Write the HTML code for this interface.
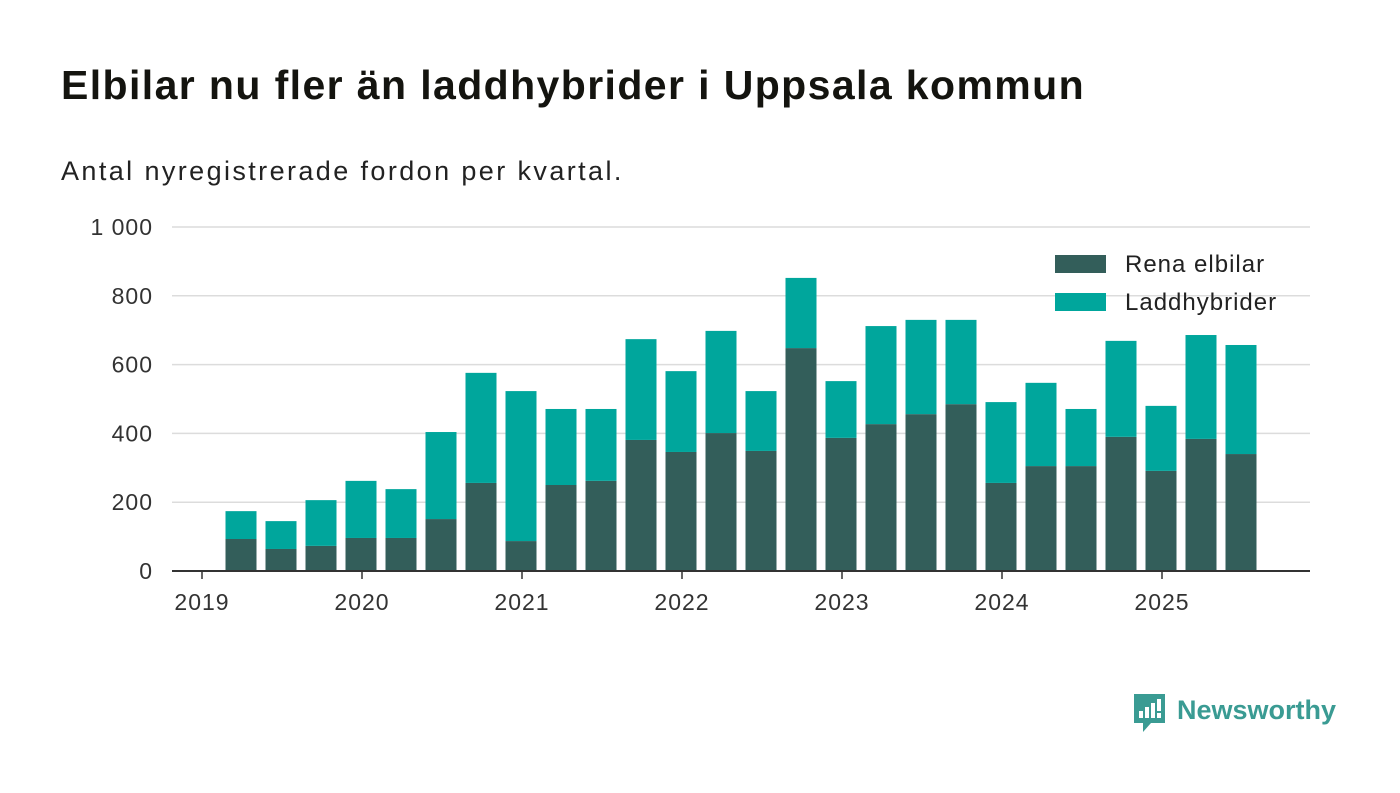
<!DOCTYPE html>
<html><head><meta charset="utf-8"><style>
body{margin:0;width:1400px;height:793px;background:#fff;font-family:"Liberation Sans",sans-serif;overflow:hidden;position:relative}
h1{position:absolute;left:61px;top:62px;margin:0;font-size:41px;letter-spacing:1.4px;font-weight:bold;color:#14140f}
.sub{position:absolute;left:61px;top:156px;font-size:27px;letter-spacing:2.4px;color:#222}
svg{position:absolute;left:0;top:0}
</style></head><body>
<h1>Elbilar nu fler än laddhybrider i Uppsala kommun</h1>
<div class="sub">Antal nyregistrerade fordon per kvartal.</div>
<svg id="c" width="1400" height="793"></svg>
<script>
const elbilar=[93,64,73,96,96,151,256,87,250,262,381,346,401,349,648,387,427,456,485,256,305,305,390,291,384,340];
const hybrider=[81,81,133,166,142,253,320,436,221,209,293,235,297,174,204,165,285,274,245,235,242,166,279,189,302,317];
const yTicks=[0,200,400,600,800,1000];
const yTickLabels=["0","200","400","600","800","1 000"];
const xYears=["2019","2020","2021","2022","2023","2024","2025"];
const NS="http://www.w3.org/2000/svg";
const svg=document.getElementById('c');
const y=v=>571-v*0.344;
const xq=i=>241+i*40;
const xYear=j=>202+j*160;
function mk(t,a){const e=document.createElementNS(NS,t);for(const k in a)e.setAttribute(k,a[k]);svg.appendChild(e);return e;}
yTicks.forEach((v,i)=>{
  if(v>0){const l=mk('line',{x1:172,x2:1310,y1:y(v),y2:y(v),stroke:'#dcdcdc','stroke-width':1.5});
  
  }
  const t=mk('text',{x:153,y:y(v)+8,'text-anchor':'end','font-size':23,'letter-spacing':1,fill:'#333','font-family':'Liberation Sans'});
  t.textContent=yTickLabels[i];
  
  
});
elbilar.forEach((v,i)=>{
  const h=hybrider[i];
  const r1=mk('rect',{x:xq(i)-15.5,y:y(v),width:31,height:y(0)-y(v),fill:'#335e5a'});
  
  
  const r2=mk('rect',{x:xq(i)-15.5,y:y(v+h),width:31,height:y(v)-y(v+h),fill:'#00a69c'});
  
  
});
const ax=mk('line',{x1:172,x2:1310,y1:571,y2:571,stroke:'#333','stroke-width':2});


xYears.forEach((s,j)=>{
  const tk=mk('line',{x1:xYear(j),x2:xYear(j),y1:571,y2:579,stroke:'#333','stroke-width':1.5});
  
  
  const t=mk('text',{x:xYear(j),y:610,'text-anchor':'middle','font-size':23,'letter-spacing':1,fill:'#333','font-family':'Liberation Sans'});
  t.textContent=s;
  
  
});
[["Rena elbilar","#335e5a",264],["Laddhybrider","#00a69c",302]].forEach(([n,c,yy])=>{
  const r=mk('rect',{x:1055,y:yy-9,width:51,height:18,fill:c});
  
  
  const t=mk('text',{x:1125,y:yy+8,'font-size':24,'letter-spacing':1,fill:'#222','font-family':'Liberation Sans'});
  t.textContent=n;
  
  
});
</script>
<svg width="1400" height="793">
<path d="M1134 694h31v29h-14l-8 9v-9h-9z" fill="#3a9b93"/>
<rect x="1139" y="711" width="4" height="7" fill="#fff"/><rect x="1145" y="707" width="4" height="11" fill="#fff"/><rect x="1151" y="703" width="4" height="15" fill="#fff"/><rect x="1157" y="699" width="4" height="12" fill="#fff"/><rect x="1157" y="713" width="4" height="5" fill="#fff"/>
<text x="1177" y="719" font-size="27" font-weight="bold" fill="#3a9b93" font-family="Liberation Sans">Newsworthy</text>
</svg>
</body></html>
